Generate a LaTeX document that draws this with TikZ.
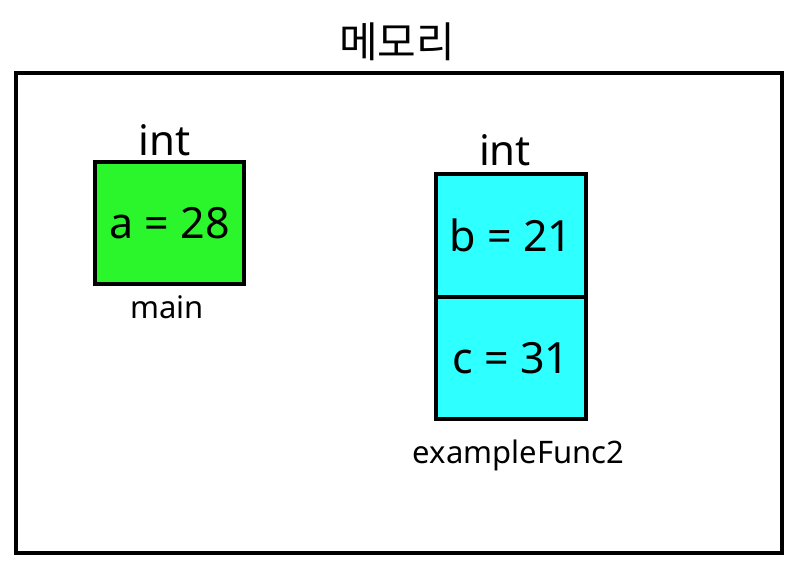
\documentclass[tikz,border=0pt]{standalone}
\usepackage{fontspec}
\setmainfont{Noto Sans}
\newfontfamily\krfont{Noto Sans CJK KR}
\definecolor{boxgreen}{HTML}{2BF52B}
\definecolor{boxcyan}{HTML}{2EFFFF}
\begin{document}
\begin{tikzpicture}[x=1pt,y=-1pt,
  cell/.style={draw=black, line width=4pt, minimum width=150pt, inner sep=0pt, font=\fontsize{43}{45}\selectfont},
  big/.style={anchor=base, inner sep=0pt, font=\fontsize{42}{44}\selectfont},
  small/.style={anchor=base, inner sep=0pt, font=\fontsize{31}{33}\selectfont}]
\useasboundingbox (0,0) rectangle (802,568);
\fill[white] (0,0) rectangle (802,568);
\node[draw=black, line width=4pt, minimum width=766pt, minimum height=480pt, inner sep=0pt] (mem) at (399,313) {};
\node[anchor=base, inner sep=0pt, font=\krfont\fontsize{42}{44}\selectfont] (title) at (397,57) {메모리};
% main
\node[big] (int1) at (164.5,155) {int};
\node[cell, fill=boxgreen, minimum width=149pt, minimum height=122pt] (a) at (169.5,223) {\raisebox{-2pt}{a = 28}};
\node[small] (main) at (167,318) {main};
% exampleFunc2
\node[big] (int2) at (505,165) {int};
\node[cell, fill=boxcyan, minimum width=150pt, minimum height=123pt] (b) at (511,235.5) {\raisebox{-2pt}{b = 21}};
\node[cell, fill=boxcyan, minimum width=150pt, minimum height=122pt] (c) at (511,358) {\raisebox{-2pt}{c = 31}};
\node[small] (func) at (518.5,463) {exampleFunc2};
\end{tikzpicture}
\end{document}
